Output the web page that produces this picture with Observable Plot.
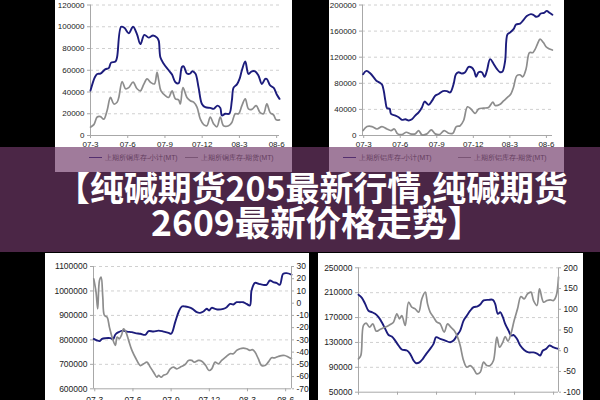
<!DOCTYPE html>
<html><head><meta charset="utf-8">
<script src="https://cdn.jsdelivr.net/npm/d3@7"></script>
<script src="https://cdn.jsdelivr.net/npm/@observablehq/plot@0.6"></script>
<style>
body{margin:0;background:#000;width:600px;height:400px;overflow:hidden;position:relative;font-family:"Liberation Sans",Arial,sans-serif}
.panel{position:absolute;background:#fff;overflow:hidden}
.panel svg{display:block}
.legend{position:absolute;top:153px;height:9px;font-size:6.8px;color:#444;white-space:nowrap;display:flex;align-items:center}
.legend .sw{display:inline-block;width:13px;height:0;border-top:1.4px solid;margin-right:3px}
#banner{position:absolute;left:0;top:147px;width:600px;height:105px;background:rgba(112,57,105,0.667);color:#fff;font-family:"Noto Sans CJK SC",sans-serif;font-weight:bold}
#banner span{position:absolute;white-space:nowrap;line-height:1}
</style></head><body>
<div id="p1" class="panel" style="left:55px;top:0;width:237px;height:172px"></div>
<div id="p2" class="panel" style="left:329px;top:0;width:235px;height:172px"></div>
<div id="p3" class="panel" style="left:45px;top:253px;width:264px;height:160px"></div>
<div id="p4" class="panel" style="left:318px;top:253px;width:265px;height:160px"></div>
<div id="banner"><span id="t1"></span><span id="t2"></span></div>
<script>
// ---------- data ----------
const xLabels = ["07-3","07-6","07-9","07-12","08-3","08-6"];
const xTicks = [0,3,6,9,12,15]; // months since 2007-03
const title1 = "【纯碱期货205最新行情,纯碱期货";
const title2 = "2609最新价格走势】";
const legend1 = ["上期所铜库存-小计(MT)","上期所铜库存-期货(MT)"];
const legend2 = ["上期所铝库存-小计(MT)","上期所铝库存-期货(MT)"];

// chart 1: copper stocks
const c1NavyM = [0,0.35,0.54,0.80,1.21,1.47,1.66,2.01,2.14,2.47,2.73,3.08,3.43,3.75,4.02,4.34,4.69,5.04,5.36,5.50,5.63,5.90,6.30,6.57,6.84,7.10,7.37,7.51,7.77,8.04,8.18,8.45,8.71,8.98,9.25,9.65,9.92,10.24,10.46,10.59,10.86,11.18,11.39,11.53,11.80,12.01,12.20,12.47,12.73,13.00,13.27,13.54,13.81,14.08,14.21,14.48,14.75,15.01,15.23];
const c1NavyV = [41300,53600,56600,57000,61000,62000,67000,68000,72000,100000,99000,94000,100000,93000,84000,92500,90000,92000,90000,87000,72000,66000,60000,56000,49000,48000,63000,63500,57000,57000,59000,57000,44000,29000,26000,25400,24500,27500,25400,18400,20000,20000,32000,44000,47000,52000,60000,68000,56600,59000,59000,55000,47400,52000,52000,46000,44000,37700,33700];
const c1GrayM = [0,0.27,0.54,0.80,1.07,1.34,1.61,1.88,2.14,2.28,2.55,2.82,3.08,3.43,3.75,4.02,4.29,4.56,4.83,5.15,5.36,5.50,5.68,6.03,6.30,6.57,6.84,7.10,7.24,7.45,7.77,8.04,8.31,8.58,8.85,9.12,9.38,9.65,9.92,10.19,10.46,10.72,11.13,11.39,11.66,11.93,12.20,12.47,12.73,13.00,13.35,13.67,13.94,14.21,14.48,14.75,14.96,15.23];
const c1GrayV = [7700,10000,17000,17400,15000,23000,35000,29000,30600,35000,49600,43000,44000,49000,43000,41000,47000,52000,49000,47400,58000,50500,41000,36700,35000,41000,33700,32800,29000,44000,35000,32000,30600,26000,15000,10000,9000,17000,10700,8000,17000,9000,9000,12000,20000,20000,27500,33700,24500,24000,27500,21000,20000,29000,21000,19000,14400,14400];
const c1YTicks = [0,20000,40000,60000,80000,100000,120000];

// chart 2: aluminium stocks
const c2NavyM = [-0.05,0.22,0.55,0.82,1.04,1.31,1.50,1.64,1.78,1.91,2.13,2.24,2.60,2.87,3.14,3.42,3.69,3.96,4.23,4.51,4.78,5.00,5.33,5.60,5.87,6.15,6.50,6.83,7.10,7.38,7.57,7.79,8.06,8.33,8.61,8.88,9.07,9.23,9.43,9.70,9.92,10.11,10.38,10.66,10.93,11.20,11.39,11.61,11.80,12.02,12.30,12.51,12.84,13.06,13.39,13.72,13.93,14.15,14.34,14.54,14.81,15.03,15.25,15.49];
const c2NavyV = [94000,99000,95000,89000,84000,81000,78000,69000,53000,42000,41000,33000,30500,28000,24000,25000,23000,25000,30500,35600,43000,52000,47000,53000,61000,63600,68000,68000,66000,79000,94000,97000,95000,97000,105000,104000,99000,90000,97000,97000,90000,99000,117000,110000,102000,97000,98000,114500,155000,158000,163000,170000,171500,175600,183000,186000,185000,182000,183000,187000,188000,191000,188000,185000];
const c2GrayM = [-0.05,0.27,0.68,1.09,1.50,1.91,2.24,2.51,2.79,3.14,3.50,3.83,4.23,4.51,4.78,5.19,5.55,5.87,6.23,6.61,6.97,7.32,7.60,7.92,8.20,8.52,8.80,9.15,9.43,9.84,10.25,10.60,10.79,11.20,11.48,11.80,12.08,12.30,12.57,12.84,13.06,13.33,13.61,13.88,14.07,14.26,14.48,14.75,15.03,15.49];
const c2GrayV = [7600,13700,13700,10000,13700,10000,7600,10000,2500,1500,5000,2500,2500,7600,1000,2500,8600,2500,1500,7600,3500,3500,13700,15000,23000,44000,40700,34000,40700,42000,43000,51000,46000,48000,53000,58500,63600,74000,91600,93000,90000,102000,127000,127000,132000,140000,147600,142500,135000,131000];
const c2YTicks = [0,40000,80000,120000,160000,200000];

// chart 3: left axis level, right axis spread
const c3NavyM = [-0.08,0.18,0.39,0.57,0.84,1.23,1.44,1.62,1.88,2.19,2.53,2.92,3.19,3.58,3.97,4.23,4.62,5.01,5.40,5.80,6.01,6.32,6.58,6.84,7.10,7.36,7.68,8.02,8.28,8.54,8.80,8.98,9.19,9.45,9.71,10.10,10.37,10.63,10.89,11.15,11.41,11.67,11.93,12.19,12.32,12.59,12.90,13.24,13.50,13.76,14.02,14.28,14.54,14.80,15.07,15.46];
const c3NavyV = [804000,797500,795000,804000,807000,807000,803000,822000,831600,838000,834000,831600,827500,825000,820700,835700,834000,838000,834000,829000,825000,872500,913000,936500,936500,933800,927000,913000,910600,916000,927000,920000,931000,927000,924000,927000,933800,947000,944800,954000,954000,954000,947000,940600,1001900,1033000,1029000,1025000,1025000,1042800,1036000,1033000,1025000,1070000,1072800,1067000];
const c3GrayM = [-0.08,0.10,0.23,0.37,0.50,0.63,0.76,0.97,1.15,1.36,1.62,1.75,1.93,2.09,2.27,2.45,2.66,2.92,3.24,3.58,3.84,4.10,4.36,4.62,4.88,5.01,5.22,5.40,5.67,5.93,6.19,6.45,6.71,6.97,7.15,7.36,7.62,7.83,8.15,8.41,8.72,8.98,9.19,9.45,9.71,9.97,10.29,10.63,10.89,11.15,11.41,11.67,11.93,12.19,12.38,12.59,12.85,13.11,13.37,13.63,13.89,14.15,14.41,14.67,14.93,15.20,15.46];
const c3GrayV = [19.9,9,-4.6,18.6,21.3,5,-10,-11.4,-19.6,-27.8,-34.5,-27.8,-29,-26.4,-21,-23.6,-30.4,-38.6,-45.4,-51,-49.6,-48.2,-52.3,-56.4,-60.5,-59,-60.5,-59,-57.8,-53.7,-52.3,-53.7,-52.3,-51,-49.6,-46.8,-46.8,-48.2,-46.8,-47.4,-51,-55,-53.7,-48.2,-49.6,-46.8,-44,-41.3,-41.3,-38.6,-37.2,-36.7,-37.2,-38.6,-38,-40,-45.4,-51,-51,-48.2,-44.7,-44.7,-43.6,-42.8,-42.8,-44,-45.4];
const c3YTicks = [600000,700000,800000,900000,1000000,1100000];
const c3RTicks = [30,20,10,0,-10,-20,-30,-40,-50,-60,-70];

// chart 4
const c4NavyM = [0,0.26,0.51,0.77,1.03,1.28,1.54,1.79,2.05,2.31,2.56,2.82,3.08,3.33,3.72,3.97,4.23,4.44,4.69,4.95,5.21,5.51,5.77,5.97,6.28,6.67,7.05,7.31,7.56,7.82,8.08,8.33,8.59,8.85,9.15,9.36,9.62,10.00,10.33,10.51,10.72,10.90,11.10,11.28,11.54,11.74,11.92,12.18,12.44,12.74,13.08,13.46,13.77,13.97,14.18,14.44,14.69,15.00,15.38];
const c4NavyV = [206600,201700,192000,181000,178700,176000,170600,162600,152000,142000,139500,133000,125000,118600,117000,111700,101000,96600,98000,103600,111700,119700,127700,138500,135800,133000,130400,133000,141000,149000,165000,173000,181000,186700,188000,191000,197500,198500,198500,192000,176000,178700,170600,160000,149000,141000,142000,135800,125000,118000,114000,114000,111700,109000,117000,119700,125000,122000,119700];
const c4GrayM = [0,0.18,0.38,0.59,0.85,1.10,1.36,1.62,1.92,2.18,2.44,2.69,2.95,3.15,3.33,3.59,3.85,4.10,4.36,4.62,4.87,5.13,5.31,5.51,5.77,6.03,6.28,6.59,6.85,7.10,7.36,7.62,7.82,8.08,8.33,8.59,8.85,9.10,9.36,9.62,9.87,10.13,10.38,10.64,10.85,11.10,11.28,11.49,11.72,11.97,12.23,12.49,12.74,13.00,13.26,13.46,13.72,13.92,14.23,14.49,14.74,15.00,15.21,15.38];
const c4GrayV = [-19.6,-11.5,60.9,66.5,56.8,64.9,47.2,50.4,55.2,58.4,63.3,68.9,89,77,85,60.9,117,105,101,93,125,141.3,113,93,81,68.9,64.9,45,64.9,56.8,48.8,32.7,12.6,-23.6,-39.7,-35.7,-43.7,-55.8,-51.8,-27.6,-35.7,-35.7,-23.6,32.7,8.6,20.7,34.3,23,40.8,72.9,101,130.8,125,137,141.3,121,109,149,117,121,122.8,121,133,177.5];
const c4YTicks = [50000,90000,130000,170000,210000,250000];
const c4RTicks = [200,150,100,50,0,-50,-100];

// ---------- drawing ----------
const NAVY = "#1c1c7c", GRAY = "#8d8d8d", AXIS = "#a8a8a8", TXT = "#222";
const zipRows = (ms, vs) => ms.map((m, i) => ({m, v: vs[i]}));

function build(el, cfg) {
  const {w, h, ml, mr, mt, mb, xd, yd, yt, navy, gray, rt, rd, fs} = cfg;
  let toLeft = v => v, fromLeft = v => v;
  if (rt) {
    const s = d3.scaleLinear().domain(rd).range(yd);
    toLeft = s; fromLeft = s.invert;
  }
  const grayRows = gray.map(d => ({m: d.m, v: toLeft(d.v)}));
  const marks = [
    Plot.gridY(yt.filter(t => t !== yd[0]), {stroke: "#c4c4c4", strokeOpacity: 1, strokeWidth: 0.8, strokeDasharray: "3,3"}),
    Plot.ruleX([xd[0]], {stroke: AXIS}),
    Plot.ruleY([yd[0]], {stroke: AXIS}),
    Plot.axisY(yt, {tickSize: 3, tickPadding: 3, stroke: AXIS, fill: TXT, fontSize: fs, tickFormat: d => String(d), label: null}),
    Plot.axisX(xTicks, {tickSize: 3, tickPadding: cfg.xpad ?? 3, stroke: AXIS, fill: TXT, fontSize: fs, tickFormat: d => xLabels[Math.round(d / 3)], label: null}),
    Plot.line(zipRows(navy.m, navy.v), {x: "m", y: "v", stroke: NAVY, strokeWidth: 1.9, curve: "catmull-rom"}),
    Plot.line(grayRows, {x: "m", y: "v", stroke: GRAY, strokeWidth: 1.7, curve: "catmull-rom"})
  ];
  if (rt) {
    marks.push(Plot.ruleX([xd[1]], {stroke: AXIS}));
    marks.push(Plot.axisY(rt.map(toLeft), {anchor: "right", tickSize: 2, tickPadding: 3, stroke: AXIS, fill: TXT, fontSize: fs, tickFormat: v => String(Math.round(fromLeft(v))), label: null}));
  }
  const svg = Plot.plot({
    width: w, height: h, marginLeft: ml, marginRight: mr, marginTop: mt, marginBottom: mb,
    x: {domain: xd}, y: {domain: yd},
    style: {background: "transparent", fontFamily: "'Liberation Sans', Arial, sans-serif", overflow: "visible"},
    marks
  });
  document.getElementById(el).appendChild(svg);
}

function legend(el, names, left1, left2) {
  const p = document.getElementById(el);
  [[names[0], NAVY, left1], [names[1], GRAY, left2]].forEach(([t, c, l]) => {
    const d = document.createElement("div");
    d.className = "legend";
    d.style.left = l + "px";
    d.innerHTML = `<span class="sw" style="border-color:${c}"></span>${t}`;
    p.appendChild(d);
  });
}

build("p1", {w: 237, h: 172, ml: 35, mr: 13, mt: 4.5, mb: 37, xd: [0, 15.23], yd: [0, 120000], yt: c1YTicks,
  navy: {m: c1NavyM, v: c1NavyV}, gray: zipRows(c1GrayM, c1GrayV), fs: 8});
build("p2", {w: 235, h: 172, ml: 33, mr: 12, mt: 4.5, mb: 37, xd: [-0.1, 15.5], yd: [0, 200000], yt: c2YTicks,
  navy: {m: c2NavyM, v: c2NavyV}, gray: zipRows(c2GrayM, c2GrayV), fs: 8});
build("p3", {w: 264, h: 160, ml: 48, mr: 18, mt: 13, mb: 24.7, xd: [-0.1, 15.46], yd: [600000, 1100000], yt: c3YTicks,
  navy: {m: c3NavyM, v: c3NavyV}, gray: zipRows(c3GrayM, c3GrayV), rt: c3RTicks, rd: [-70, 30], fs: 8.5, xpad: 5});
build("p4", {w: 265, h: 160, ml: 40, mr: 25, mt: 14.3, mb: 21.3, xd: [0, 15.38], yd: [50000, 250000], yt: c4YTicks,
  navy: {m: c4NavyM, v: c4NavyV}, gray: zipRows(c4GrayM, c4GrayV), rt: c4RTicks, rd: [-100, 200], fs: 8.5, xpad: 5});
legend("p1", legend1, 34, 130);
legend("p2", legend2, 14, 129);

// banner title: fit each line into the box the reference shows
function placeLine(id, text, left, width, centerY) {
  const s = document.getElementById(id);
  s.textContent = text;
  s.style.fontSize = "34px";
  const w0 = s.getBoundingClientRect().width;
  const fs = Math.min(36, 34 * width / w0);
  s.style.fontSize = fs + "px";
  const r = s.getBoundingClientRect();
  s.style.left = (left + (width - r.width) / 2) + "px";
  s.style.top = (centerY - 147 - r.height / 2) + "px";
}
placeLine("t1", title1, 56, 512, 187);
placeLine("t2", title2, 151, 332, 221);
</script>
</body></html>
